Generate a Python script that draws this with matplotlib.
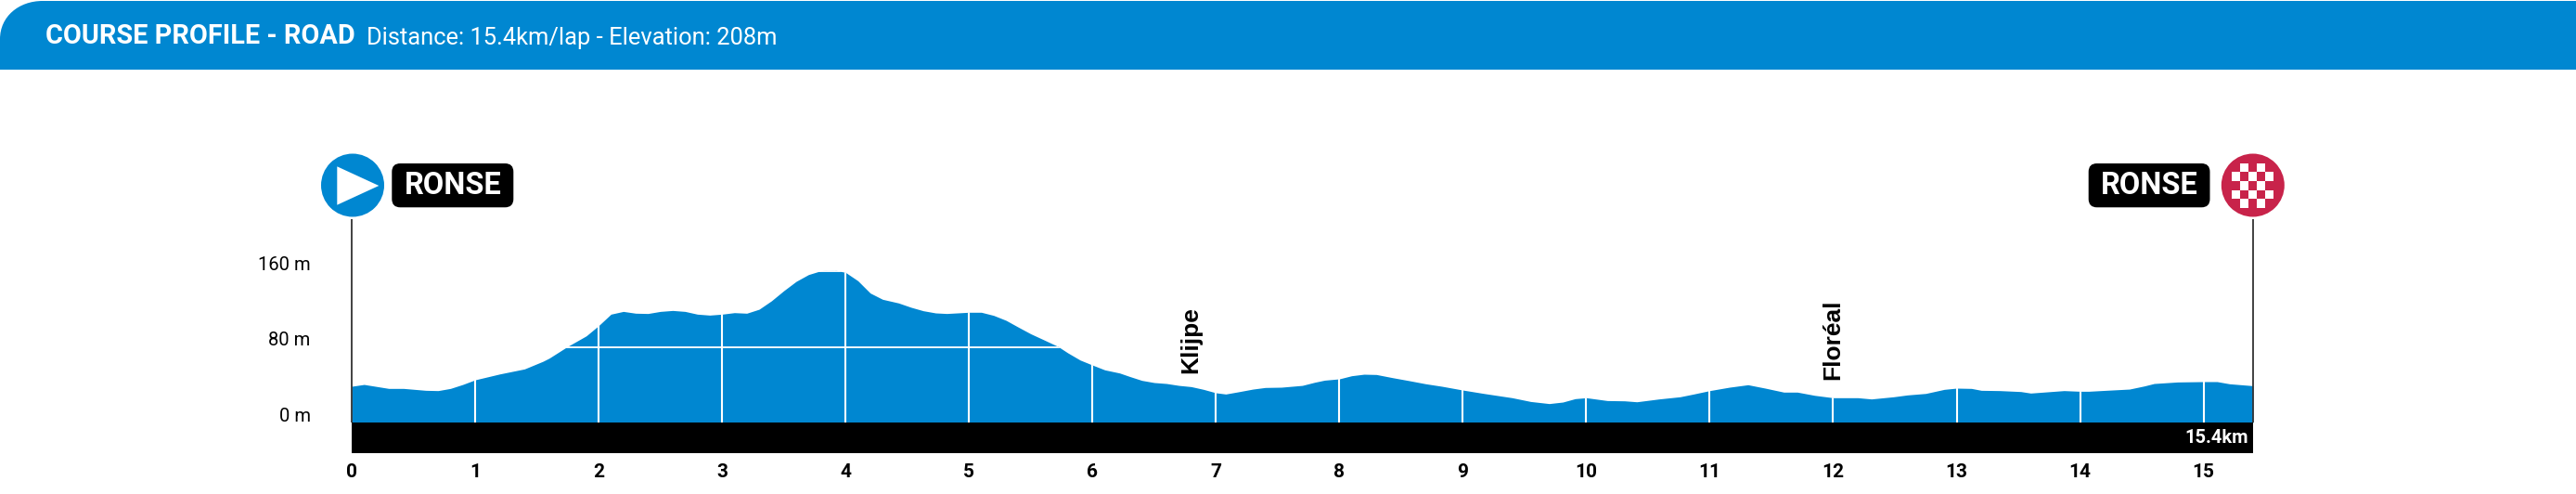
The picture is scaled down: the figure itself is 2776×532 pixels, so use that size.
import numpy as np
import matplotlib
matplotlib.use('Agg')
import matplotlib.pyplot as plt
from matplotlib.patches import Circle, FancyBboxPatch, PathPatch, Polygon, Rectangle
from matplotlib.path import Path
from matplotlib.transforms import ScaledTranslation

BLUE = '#0087D1'
RED = '#C8234A'

km = [0, 0.1, 0.3, 0.42, 0.6, 0.7, 0.8, 0.9, 1.0, 1.2, 1.4, 1.55, 1.6, 1.75, 1.9, 2.0, 2.1, 2.2, 2.3, 2.4,
      2.5, 2.6, 2.7, 2.8, 2.9, 3.0, 3.1, 3.2, 3.3, 3.4, 3.5, 3.6, 3.7, 3.8, 3.9, 4.0, 4.1, 4.2, 4.3, 4.43,
      4.53, 4.63, 4.73, 4.82, 5.0, 5.1, 5.2, 5.3, 5.4, 5.5, 5.6, 5.72, 5.8, 5.9, 6.0, 6.1, 6.22, 6.3, 6.4, 6.5,
      6.6, 6.7, 6.8, 6.9, 7.0, 7.08, 7.18, 7.3, 7.4, 7.53, 7.7, 7.8, 7.88, 8.0, 8.1, 8.2, 8.3, 8.43, 8.57, 8.7,
      8.83, 9.0, 9.17, 9.4, 9.55, 9.7, 9.81, 9.91, 10.0, 10.17, 10.31, 10.41, 10.59, 10.76, 10.87, 11.0, 11.16, 11.31, 11.45, 11.6,
      11.71, 11.85, 12.0, 12.2, 12.31, 12.49, 12.6, 12.75, 12.9, 13.0, 13.12, 13.2, 13.35, 13.52, 13.6, 13.87, 14.0, 14.07, 14.21, 14.4,
      14.52, 14.6, 14.79, 15.0, 15.11, 15.21, 15.4]
elevation = [38.6, 40.5, 36.3, 36.3, 34.3, 34, 36.3, 40.5, 45.4, 51.6, 56.9, 65, 68.3, 80.7, 91.8, 102.6, 114.7, 117.6, 115.7, 115.4,
             117.6, 118.6, 117.6, 114.7, 113.7, 114.7, 116.3, 115.7, 119.9, 128.8, 139.5, 149.3, 156.5, 160.5, 161.5, 158.8, 150, 137, 130.4, 126.5,
             122, 118.3, 116, 115.4, 116.7, 116.7, 113.4, 108.2, 101, 94, 88, 80.7, 73.9, 66.3, 61, 55.9, 52.6, 49, 44.8, 42.5,
             41.5, 39.5, 38.2, 35.3, 31.7, 30.4, 32.7, 35.6, 37.3, 37.6, 39.5, 42.8, 45, 46.4, 49.7, 51.3, 51, 47.7, 44.4, 41.2,
             38.6, 34.6, 31, 26.5, 22.5, 20.3, 21.9, 25.5, 26.5, 23.5, 23.2, 22.2, 25.2, 27.5, 30.4, 34, 37.6, 40.2, 36.6, 32.4,
             32.4, 29, 26.5, 26.5, 25.2, 27.5, 29.4, 31, 35.3, 36.6, 36.3, 34.3, 34, 33, 31.4, 34, 33.3, 33.3, 34.3, 35.6,
             38.9, 41.5, 43.1, 43.5, 43.5, 41.2, 39.2]

km_ticks = list(range(16))
elev_ticks = [0, 80, 160]
elev_labels = ['0 m', '80 m', '160 m']
climb_names = ['Klijpe', 'Floréal']
climb_km = [6.8, 12.0]
climb_base = [52, 45]

W, H = 2776, 532
fig = plt.figure(figsize=(W / 100, H / 100), dpi=100)

# pixel layer for the header and the start / finish badges
deco = fig.add_axes([0, 0, 1, 1], zorder=3)
deco.set_xlim(0, W)
deco.set_ylim(H, 0)
deco.axis('off')

# main profile axes, left/right = km 0 / 15.4, bottom/top in pixels
left, right, top, bottom = 379, 2427.8, 235, 488
ax = fig.add_axes([left / W, 1 - bottom / H, (right - left) / W, (bottom - top) / H])
ax.set_xlim(0, 15.4)
ax.set_ylim(-32, 216)
for s in ax.spines.values():
    s.set_visible(False)

poly = ax.fill_between(km, elevation, 0, color=BLUE, lw=0, zorder=2)
ax.axhspan(-32, 0, color='black', lw=0, zorder=3)

# white km and height lines, only inside the profile
for k in km_ticks[1:]:
    ln = ax.axvline(k, color='white', lw=1.5, zorder=2.5)
    ln.set_clip_path(poly.get_paths()[0], poly.get_transform())
for e in elev_ticks[1:]:
    ln = ax.axhline(e, color='white', lw=1.4, alpha=0.95, zorder=2.5)
    ln.set_clip_path(poly.get_paths()[0], poly.get_transform())

ax.set_xticks(km_ticks)
ax.set_xticklabels(km_ticks, family='Roboto', weight='bold', fontsize=15)
ax.set_yticks(elev_ticks)
ax.set_yticklabels(elev_labels, family='Roboto', fontsize=14.5)
ax.tick_params(axis='x', length=0, pad=8)
ax.tick_params(axis='y', length=0, pad=32)
shift = ScaledTranslation(0, 9 / 100, fig.dpi_scale_trans)
for lab in ax.get_yticklabels():
    lab.set_transform(lab.get_transform() + shift)

# lines up to the badges
ax.vlines([0, 15.4], 0, 215, color='#333333', lw=1.3, zorder=4, clip_on=False)

for name, k, b in zip(climb_names, climb_km, climb_base):
    ax.text(k, b, name, rotation=90, ha='center', va='bottom', family='Liberation Sans',
            weight='bold', fontsize=19, zorder=5)

ax.text(15.364, -16, '15.4km', color='white', ha='right', va='center', family='Roboto',
        fontsize=14.5, weight='bold', zorder=5)

# header band, rounded on the top left
header = Path([(0, 75), (0, 42), (0, 18), (20, 1), (46, 1), (W, 1), (W, 75), (0, 75)],
              [Path.MOVETO, Path.LINETO, Path.CURVE4, Path.CURVE4, Path.CURVE4, Path.LINETO, Path.LINETO, Path.CLOSEPOLY])
deco.add_patch(PathPatch(header, facecolor=BLUE, lw=0))
deco.text(49, 39, 'COURSE PROFILE - ROAD', color='white', family='Roboto', weight='bold',
          fontsize=20.8, va='center', ha='left')
deco.text(395, 41, 'Distance: 15.4km/lap - Elevation: 208m', color='white', family='Roboto',
          fontsize=18.4, va='center', ha='left')

# start
deco.add_patch(Circle((380, 199.5), 34, facecolor=BLUE, lw=0))
deco.add_patch(Polygon([(363.3, 179.3), (363.3, 220.7), (408.3, 200)], facecolor='white', lw=0))

# finish, 5x5 chequered
fx, fy = 2405.3, 175.5
deco.add_patch(Circle((2427.8, 199.5), 34, facecolor=RED, lw=0))
for row in range(5):
    for col in range(5):
        if (row + col) % 2 == 1 and not (row in (0, 4) and col in (0, 4)):
            deco.add_patch(Rectangle((fx + col * 9, fy + row * 9.7), 9, 9.7, facecolor='white', lw=0))

# town labels
for x0, x1 in [(422.3, 553.3), (2250.7, 2381.5)]:
    deco.add_patch(FancyBboxPatch((x0 + 9, 176 + 9), x1 - x0 - 18, 47.3 - 18,
                                  boxstyle='round,pad=9,rounding_size=9', facecolor='black', lw=0))
    deco.text((x0 + x1) / 2, 200, 'RONSE', color='white', family='Roboto', weight='bold',
              fontsize=23.5, ha='center', va='center')

fig.savefig('out.png', dpi=100)
